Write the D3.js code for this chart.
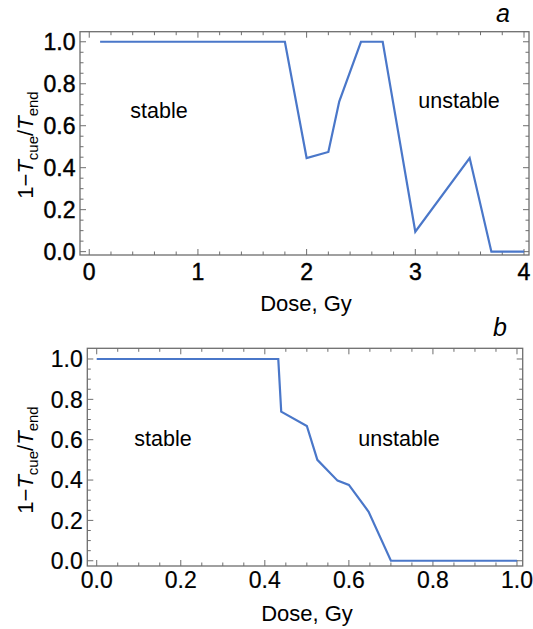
<!DOCTYPE html>
<html>
<head>
<meta charset="utf-8">
<script src="https://cdn.jsdelivr.net/npm/d3@7"></script>
<style>
  html, body { margin: 0; padding: 0; background: #fff; }
  svg { display: block; }
  text { font-family: "Liberation Sans", Arial, sans-serif; fill: #000; }
</style>
</head>
<body>
<svg id="chart" width="533" height="629"></svg>
<script>
// Panel a: dose 0–4 Gy
const doseA = [0.1, 1.8, 2.0, 2.2, 2.3, 2.5, 2.7, 3.0, 3.5, 3.7, 4.0];
const ratioA = [1.0, 1.0, 0.446, 0.475, 0.715, 1.0, 1.0, 0.095, 0.446, 0.0, 0.0];
const xTicksA = [0, 1, 2, 3, 4];
const xTickLabelsA = ["0", "1", "2", "3", "4"];

// Panel b: dose 0–1 Gy
const doseB = [0.0, 0.432, 0.439, 0.5, 0.525, 0.573, 0.6, 0.647, 0.7, 1.0];
const ratioB = [1.0, 1.0, 0.739, 0.668, 0.5, 0.397, 0.376, 0.243, 0.0, 0.0];
const xTicksB = [0, 0.2, 0.4, 0.6, 0.8, 1.0];
const xTickLabelsB = ["0.0", "0.2", "0.4", "0.6", "0.8", "1.0"];

const yTicks = [0, 0.2, 0.4, 0.6, 0.8, 1.0];
const yTickLabels = ["0.0", "0.2", "0.4", "0.6", "0.8", "1.0"];
const regionLabels = ["stable", "unstable"];

const svg = d3.select("#chart");
const lineColor = "#4a77c9";
const frameColor = "#6e6e6e";

function drawPanel(p) {
  const x = d3.scaleLinear().domain(p.xDomain).range([p.left, p.right]);
  const y = d3.scaleLinear().domain(p.yDomain).range([p.bottom, p.top]);
  const g = svg.append("g");

  // minor + major ticks on all four sides, pointing inward
  const xMinor = d3.range(0, p.xMax + 1e-9, p.xMinorStep);
  const yMinor = d3.range(0, 1.0 + 1e-9, 0.05);
  const isMajorX = v => p.xTicks.some(t => Math.abs(t - v) < 1e-6);
  const isMajorY = v => yTicks.some(t => Math.abs(t - v) < 1e-6);

  const ticks = g.append("g").attr("stroke", frameColor).attr("stroke-width", 1);
  xMinor.forEach(v => {
    const len = isMajorX(v) ? 6 : 3.5;
    const px = x(v);
    ticks.append("line").attr("x1", px).attr("x2", px).attr("y1", p.bottom).attr("y2", p.bottom - len);
    ticks.append("line").attr("x1", px).attr("x2", px).attr("y1", p.top).attr("y2", p.top + len);
  });
  yMinor.forEach(v => {
    const len = isMajorY(v) ? 6 : 3.5;
    const py = y(v);
    ticks.append("line").attr("y1", py).attr("y2", py).attr("x1", p.left).attr("x2", p.left + len);
    ticks.append("line").attr("y1", py).attr("y2", py).attr("x1", p.right).attr("x2", p.right - len);
  });

  // frame
  g.append("rect")
    .attr("x", p.left).attr("y", p.top)
    .attr("width", p.right - p.left).attr("height", p.bottom - p.top)
    .attr("fill", "none").attr("stroke", frameColor).attr("stroke-width", 1.3);

  // tick labels
  g.append("g").selectAll("text").data(p.xTicks).join("text")
    .attr("x", d => x(d)).attr("y", p.xLabelBaseline)
    .attr("text-anchor", "middle").attr("font-size", 23)
    .attr("stroke", "#000").attr("stroke-width", p.labelStroke)
    .text((d, i) => p.xTickLabels[i]);
  g.append("g").selectAll("text").data(yTicks).join("text")
    .attr("x", p.left - 4.5).attr("y", d => y(d) + 8.3)
    .attr("text-anchor", "end").attr("font-size", 23)
    .attr("stroke", "#000").attr("stroke-width", p.labelStroke)
    .text((d, i) => yTickLabels[i]);

  // data line
  const pts = p.dose.map((d, i) => [d, p.ratio[i]]);
  g.append("path")
    .attr("d", d3.line().x(d => x(d[0])).y(d => y(d[1]))(pts))
    .attr("fill", "none").attr("stroke", lineColor).attr("stroke-width", 2.2)
    .attr("stroke-linejoin", "miter");

  // region labels
  p.regionPos.forEach((pos, i) => {
    g.append("text").attr("x", pos[0]).attr("y", pos[1])
      .attr("text-anchor", "middle").attr("font-size", 21.5)
      .text(regionLabels[i]);
  });

  // axis titles
  g.append("text").attr("x", p.xTitlePos[0]).attr("y", p.xTitlePos[1])
    .attr("text-anchor", "middle").attr("font-size", 22)
    .text("Dose, Gy");

  const yt = g.append("text")
    .attr("transform", `translate(${p.yTitlePos[0]},${p.yTitlePos[1]}) rotate(-90)`)
    .attr("text-anchor", "middle").attr("font-size", 22);
  yt.append("tspan").text("1\u2212");
  yt.append("tspan").attr("font-style", "italic").text("T");
  yt.append("tspan").attr("font-size", 15).attr("dy", 5).text("cue");
  yt.append("tspan").attr("dy", -5).text("/");
  yt.append("tspan").attr("font-style", "italic").text("T");
  yt.append("tspan").attr("font-size", 15).attr("dy", 5).text("end");

  // panel letter
  g.append("text").attr("x", p.letterPos[0]).attr("y", p.letterPos[1])
    .attr("text-anchor", "middle").attr("font-size", 25).attr("font-style", "italic")
    .text(p.letter);
}

drawPanel({
  letter: "a",
  dose: doseA, ratio: ratioA,
  xTicks: xTicksA, xTickLabels: xTickLabelsA,
  xMax: 4, xMinorStep: 0.2,
  xDomain: [-0.085, 4.046], yDomain: [-0.016, 1.048],
  left: 80, right: 529, top: 31.7, bottom: 255,
  xLabelBaseline: 280, labelStroke: 0.45,
  regionPos: [[159, 118], [459, 108]],
  xTitlePos: [306, 311],
  yTitlePos: [33, 145],
  letterPos: [503, 22]
});

drawPanel({
  letter: "b",
  dose: doseB, ratio: ratioB,
  xTicks: xTicksB, xTickLabels: xTickLabelsB,
  xMax: 1.0, xMinorStep: 0.05,
  xDomain: [-0.0224, 1.0136], yDomain: [-0.026, 1.053],
  left: 87.3, right: 522.7, top: 348.3, bottom: 566,
  xLabelBaseline: 588, labelStroke: 0.2,
  regionPos: [[163, 446], [399, 446]],
  xTitlePos: [307, 621],
  yTitlePos: [33, 460],
  letterPos: [500, 336]
});
</script>
</body>
</html>
